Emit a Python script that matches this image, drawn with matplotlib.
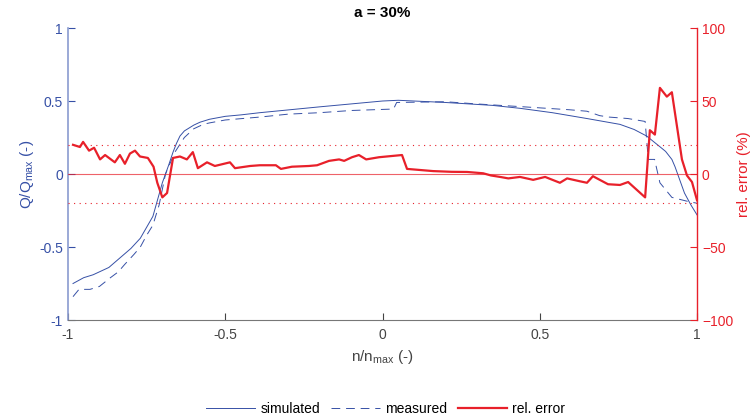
import matplotlib.pyplot as plt

plt.rcParams['font.family'] = ['Liberation Sans', 'DejaVu Sans']
plt.rcParams['mathtext.fontset'] = 'custom'
plt.rcParams['mathtext.rm'] = 'Liberation Sans'
plt.rcParams['mathtext.it'] = 'Liberation Sans'

# simulated Q/Qmax
sim_x = [-0.984, -0.95, -0.92, -0.87, -0.835, -0.80, -0.77, -0.73, -0.70, -0.68,
         -0.666, -0.655, -0.644, -0.63, -0.60, -0.58, -0.55, -0.5, -0.45, -0.39,
         -0.2, 0.0, 0.05, 0.2, 0.35, 0.437, 0.54, 0.65, 0.755, 0.80,
         0.84, 0.86, 0.883, 0.90, 0.92, 0.93, 0.945, 0.96, 0.98, 1.0]
sim_y = [-0.75, -0.71, -0.69, -0.64, -0.575, -0.51, -0.44, -0.29, -0.06, 0.06,
         0.15, 0.21, 0.26, 0.295, 0.335, 0.355, 0.375, 0.395, 0.405, 0.42,
         0.46, 0.50, 0.505, 0.49, 0.47, 0.45, 0.42, 0.38, 0.34, 0.305,
         0.26, 0.225, 0.185, 0.155, 0.10, 0.05, -0.04, -0.13, -0.21, -0.28]

# measured Q/Qmax
meas_x = [-0.984, -0.965, -0.93, -0.90, -0.865, -0.84, -0.82, -0.79, -0.77, -0.75,
          -0.73, -0.71, -0.69, -0.66, -0.63, -0.60, -0.57, -0.55, -0.5, -0.39,
          -0.3, -0.2, -0.1, 0.035, 0.045, 0.2, 0.3, 0.45, 0.595, 0.65,
          0.69, 0.72, 0.78, 0.835, 0.845, 0.865, 0.882, 0.92, 0.975, 1.0]
meas_y = [-0.84, -0.79, -0.79, -0.77, -0.71, -0.67, -0.62, -0.55, -0.50, -0.42,
          -0.35, -0.21, 0.0, 0.15, 0.25, 0.31, 0.34, 0.35, 0.37, 0.39,
          0.41, 0.42, 0.435, 0.445, 0.49, 0.495, 0.48, 0.46, 0.44, 0.43,
          0.40, 0.39, 0.38, 0.36, 0.10, 0.10, -0.06, -0.16, -0.19, -0.20]

# relative error (%)
err_x = [-0.984, -0.962, -0.952, -0.933, -0.917, -0.898, -0.882, -0.851, -0.835, -0.819,
         -0.803, -0.787, -0.771, -0.746, -0.728, -0.716, -0.70, -0.685, -0.666, -0.644,
         -0.622, -0.603, -0.587, -0.558, -0.533, -0.485, -0.469, -0.421, -0.39, -0.339,
         -0.323, -0.288, -0.234, -0.208, -0.17, -0.138, -0.122, -0.097, -0.075, -0.052,
         -0.011, 0.062, 0.078, 0.161, 0.22, 0.269, 0.32, 0.345, 0.374, 0.40,
         0.437, 0.469, 0.479, 0.517, 0.564, 0.587, 0.628, 0.65, 0.669, 0.717,
         0.755, 0.781, 0.835, 0.850, 0.866, 0.882, 0.904, 0.920, 0.952, 0.968,
         0.984, 1.0]
err_y = [20, 18.5, 22, 16, 18, 10, 13, 8, 13, 7,
         14, 16, 12, 11, 5, -6, -16, -13, 11, 12,
         10, 15, 4, 8, 5.5, 8, 4, 5.5, 6, 6,
         3.5, 5, 5.5, 6, 9, 10, 9, 11.5, 13, 10,
         11.5, 13, 3.5, 2, 1.5, 1.4, 0.5, -1, -2, -3,
         -2, -3.5, -4, -2, -6, -3, -5, -6, -1.5, -7,
         -7.5, -5.5, -16, 30, 27, 59, 53, 56, 10, -1,
         -5.5, -18]

blue = '#3650a6'
red = '#e8202a'

fig = plt.figure(figsize=(7.52, 4.18), dpi=100)
ax = fig.add_axes([0.0904, 0.2344, 0.8365, 0.6986])
ax2 = ax.twinx()

l1, = ax.plot(sim_x, sim_y, color=blue, lw=0.7, label='simulated')
l2, = ax.plot(meas_x, meas_y, color=blue, lw=0.7, dashes=(9, 6), label='measured')
ax.set_xlim(-1, 1)
ax.set_ylim(-1, 1)
ax.set_xticks([-1, -0.5, 0, 0.5, 1])
ax.set_xticklabels(['-1', '-0.5', '0', '0.5', '1'])
ax.set_yticks([-1, -0.5, 0, 0.5, 1])
ax.set_yticklabels(['-1', '-0.5', '0', '0.5', '1'])

ax2.axhline(0, color=red, lw=0.8, alpha=0.7)
ax2.axhline(20, color=red, lw=0.8, ls=(0, (1, 4)))
ax2.axhline(-20, color=red, lw=0.8, ls=(0, (1, 4)))
l3, = ax2.plot(err_x, err_y, color=red, lw=1.6, label='rel. error')
ax2.set_ylim(-100, 100)
ax2.set_yticks([-100, -50, 0, 50, 100])

ax.spines['top'].set_visible(False)
ax2.spines['top'].set_visible(False)
ax.spines['right'].set_visible(False)
ax2.spines['left'].set_visible(False)
ax2.spines['bottom'].set_visible(False)
ax.spines['left'].set_color('#8a9bcf')
ax.spines['left'].set_linewidth(1.2)
ax.spines['bottom'].set_color('#777777')
ax2.spines['right'].set_color(red)
ax2.spines['right'].set_linewidth(1.0)

ax.tick_params(axis='y', direction='in', colors=blue, labelsize=10, length=5, width=0.8)
ax.tick_params(axis='x', direction='in', colors='#444444', labelsize=10, length=5, width=0.8, pad=6)
ax2.tick_params(axis='y', direction='in', colors=red, labelsize=10, length=5, width=0.8)

ax.set_xlabel('n/n$_{\\rm max}$ (-)', fontsize=11, color='#444444')
ax.set_ylabel('Q/Q$_{\\rm max}$ (-)', fontsize=11, color=blue, labelpad=2)
ax2.set_ylabel('rel. error (%)', fontsize=11, color=red, labelpad=3)
ax.set_title('a = 30%', fontsize=11, fontweight='bold', pad=8)

fig.legend(handles=[l1, l2, l3], loc='lower center', ncol=3, frameon=False,
           bbox_to_anchor=(0.513, -0.025), fontsize=10, handlelength=3.5,
           columnspacing=0.8, handletextpad=0.4)

fig.savefig('out.png', dpi=100)
